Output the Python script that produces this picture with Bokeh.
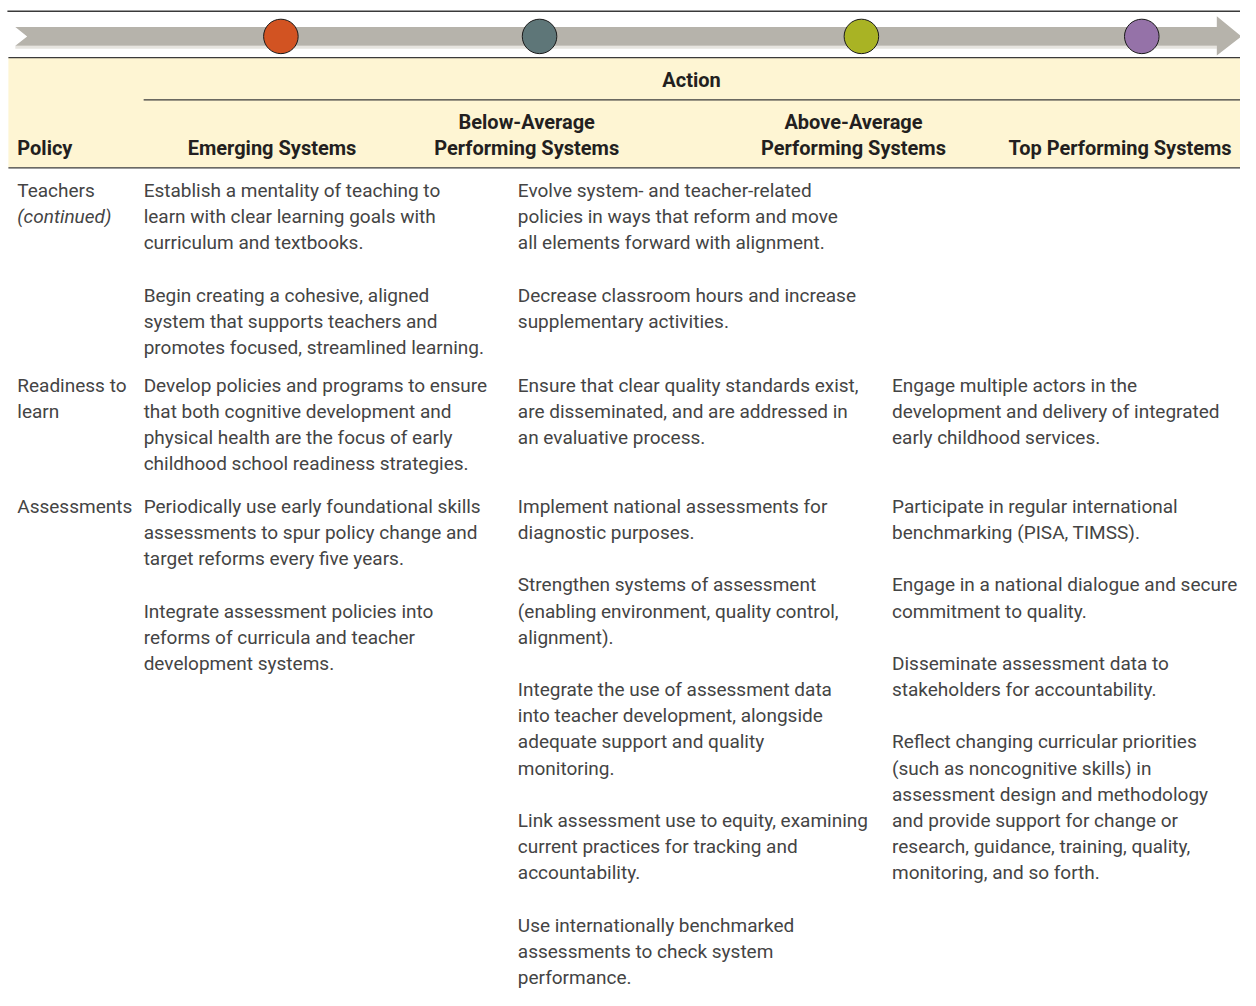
from bokeh.plotting import figure
from bokeh.models import Range1d, ColumnDataSource
from bokeh.core.properties import value
from bokeh.embed import file_html
from bokeh.resources import INLINE

# ---------------- data ----------------
stage_names = ["Emerging Systems", "Below-Average Performing Systems",
               "Above-Average Performing Systems", "Top Performing Systems"]
stage_colors = ["#d25322", "#5e7678", "#a9b324", "#9572a8"]

header_policy = "Policy"
header_action = "Action"
header_columns = [
    ["Emerging Systems"],
    ["Below-Average", "Performing Systems"],
    ["Above-Average", "Performing Systems"],
    ["Top Performing Systems"],
]

policies = [
    [("Teachers", "normal"), ("(continued)", "italic")],
    [("Readiness to", "normal"), ("learn", "normal")],
    [("Assessments", "normal")],
]

emerging_actions = [
    [["Establish a mentality of teaching to",
      "learn with clear learning goals with",
      "curriculum and textbooks."],
     ["Begin creating a cohesive, aligned",
      "system that supports teachers and",
      "promotes focused, streamlined learning."]],
    [["Develop policies and programs to ensure",
      "that both cognitive development and",
      "physical health are the focus of early",
      "childhood school readiness strategies."]],
    [["Periodically use early foundational skills",
      "assessments to spur policy change and",
      "target reforms every five years."],
     ["Integrate assessment policies into",
      "reforms of curricula and teacher",
      "development systems."]],
]

below_actions = [
    [["Evolve system- and teacher-related",
      "policies in ways that reform and move",
      "all elements forward with alignment."],
     ["Decrease classroom hours and increase",
      "supplementary activities."]],
    [["Ensure that clear quality standards exist,",
      "are disseminated, and are addressed in",
      "an evaluative process."]],
    [["Implement national assessments for",
      "diagnostic purposes."],
     ["Strengthen systems of assessment",
      "(enabling environment, quality control,",
      "alignment)."],
     ["Integrate the use of assessment data",
      "into teacher development, alongside",
      "adequate support and quality",
      "monitoring."],
     ["Link assessment use to equity, examining",
      "current practices for tracking and",
      "accountability."],
     ["Use internationally benchmarked",
      "assessments to check system",
      "performance."]],
]

above_actions = [
    [],
    [["Engage multiple actors in the",
      "development and delivery of integrated",
      "early childhood services."]],
    [["Participate in regular international",
      "benchmarking (PISA, TIMSS)."],
     ["Engage in a national dialogue and secure",
      "commitment to quality."],
     ["Disseminate assessment data to",
      "stakeholders for accountability."],
     ["Reflect changing curricular priorities",
      "(such as noncognitive skills) in",
      "assessment design and methodology",
      "and provide support for change or",
      "research, guidance, training, quality,",
      "monitoring, and so forth."]],
]

# ---------------- layout ----------------
W, H = 1240, 990
X0, X1 = 0, 1256
Y0, Y1 = 0, 1006

TOP_RULE_Y = 11
ARROW_LEFT, ARROW_NOTCH, ARROW_HEAD_X, ARROW_TIP = 15, 27, 1232, 1257
BAND_TOP, BAND_BOT, HEAD_TOP, HEAD_BOT, BAND_MID = 27, 46, 16, 56, 36.5
STAGE_X = [284, 546, 872, 1156]
STAGE_R = 17.5

HDR_LEFT = 8
HDR_TOP, HDR_BOT, ACTION_LINE_Y, ACTION_LINE_X = 58, 170, 101, 145
ACTION_X, ACTION_Y = 700, 81
HDR_ROW1, HDR_ROW2 = 123, 150
HDR_CX = [275, 533, 864, 1134]
POLICY_X = 17
COL_X = [145, 524, 903]
ROW_Y = [193, 391, 514]
LH = 26.6

FONT = "Roboto"
BODY_SIZE = "19px"
HDR_SIZE = "20px"
BODY_COLOR = "#444444"
HDR_COLOR = "#231f20"

p = figure(width=W, height=H, x_range=Range1d(X0, X1), y_range=Range1d(Y1, Y0),
           output_backend="svg", toolbar_location=None, min_border=0)
p.axis.visible = False
p.grid.visible = False
p.outline_line_color = None
p.background_fill_color = "white"
p.border_fill_color = "white"

# top rule
p.segment(x0=[HDR_LEFT - 1], y0=[TOP_RULE_Y], x1=[X1], y1=[TOP_RULE_Y],
          line_color="#3a3a3a", line_width=1.5)

# arrow band
p.quad(left=[ARROW_LEFT], right=[ARROW_HEAD_X], top=[BAND_BOT + 3], bottom=[BAND_BOT],
       fill_color="#e6e4df", line_color=None)
p.patch(x=[ARROW_LEFT, ARROW_HEAD_X, ARROW_HEAD_X, ARROW_TIP, ARROW_HEAD_X, ARROW_HEAD_X,
           ARROW_LEFT, ARROW_NOTCH],
        y=[BAND_TOP, BAND_TOP, HEAD_TOP, BAND_MID, HEAD_BOT, BAND_BOT, BAND_BOT, BAND_MID],
        fill_color="#b6b3ab", line_color=None)

# stage markers
p.ellipse(x=STAGE_X, y=[BAND_MID] * len(STAGE_X), width=2 * STAGE_R, height=2 * STAGE_R,
          fill_color=stage_colors, line_color="#1a1a1a", line_width=1)

# header band
p.quad(left=[HDR_LEFT], right=[X1], top=[HDR_TOP], bottom=[HDR_BOT],
       fill_color="#fef5d3", line_color=None)
p.segment(x0=[HDR_LEFT, HDR_LEFT, ACTION_LINE_X], y0=[HDR_TOP, HDR_BOT, ACTION_LINE_Y],
          x1=[X1] * 3, y1=[HDR_TOP, HDR_BOT, ACTION_LINE_Y],
          line_color="#3a3a3a", line_width=1.3)

hx, hy, ht = [], [], []
for cx, lines in zip(HDR_CX, header_columns):
    rows = [HDR_ROW2] if len(lines) == 1 else [HDR_ROW1, HDR_ROW2]
    for yy, t in zip(rows, lines):
        hx.append(cx); hy.append(yy); ht.append(t)
p.text(x=hx, y=hy, text=ht, text_align="center", text_baseline="middle",
       text_font=value(FONT), text_font_size=HDR_SIZE, text_font_style="bold",
       text_color=HDR_COLOR)
p.text(x=[POLICY_X], y=[HDR_ROW2], text=[header_policy], text_align="left", text_baseline="middle",
       text_font=value(FONT), text_font_size=HDR_SIZE, text_font_style="bold", text_color=HDR_COLOR)
p.text(x=[ACTION_X], y=[ACTION_Y], text=[header_action], text_align="center", text_baseline="middle",
       text_font=value(FONT), text_font_size=HDR_SIZE, text_font_style="bold", text_color=HDR_COLOR)

# body
def cell_lines(paragraphs):
    out = []
    for k, para in enumerate(paragraphs):
        if k > 0:
            out.append(None)
        out.extend(para)
    return out

bx, by, bt = [], [], []
px, py, pt, ps = [], [], [], []
for r, row_y in enumerate(ROW_Y):
    for i, (t, style) in enumerate(policies[r]):
        px.append(POLICY_X); py.append(row_y + i * LH); pt.append(t); ps.append(style)
    for cx, col in zip(COL_X, [emerging_actions, below_actions, above_actions]):
        for i, t in enumerate(cell_lines(col[r])):
            if t is None:
                continue
            bx.append(cx); by.append(row_y + i * LH); bt.append(t)

p.text(x=bx, y=by, text=bt, text_align="left", text_baseline="middle",
       text_font=value(FONT), text_font_size=BODY_SIZE, text_color=BODY_COLOR)
src = ColumnDataSource(dict(x=px, y=py, text=pt, style=ps))
p.text(x="x", y="y", text="text", source=src, text_align="left", text_baseline="middle",
       text_font=value(FONT), text_font_size=BODY_SIZE, text_font_style="style",
       text_color=BODY_COLOR)

open("out.html", "w").write(file_html(p, INLINE))
